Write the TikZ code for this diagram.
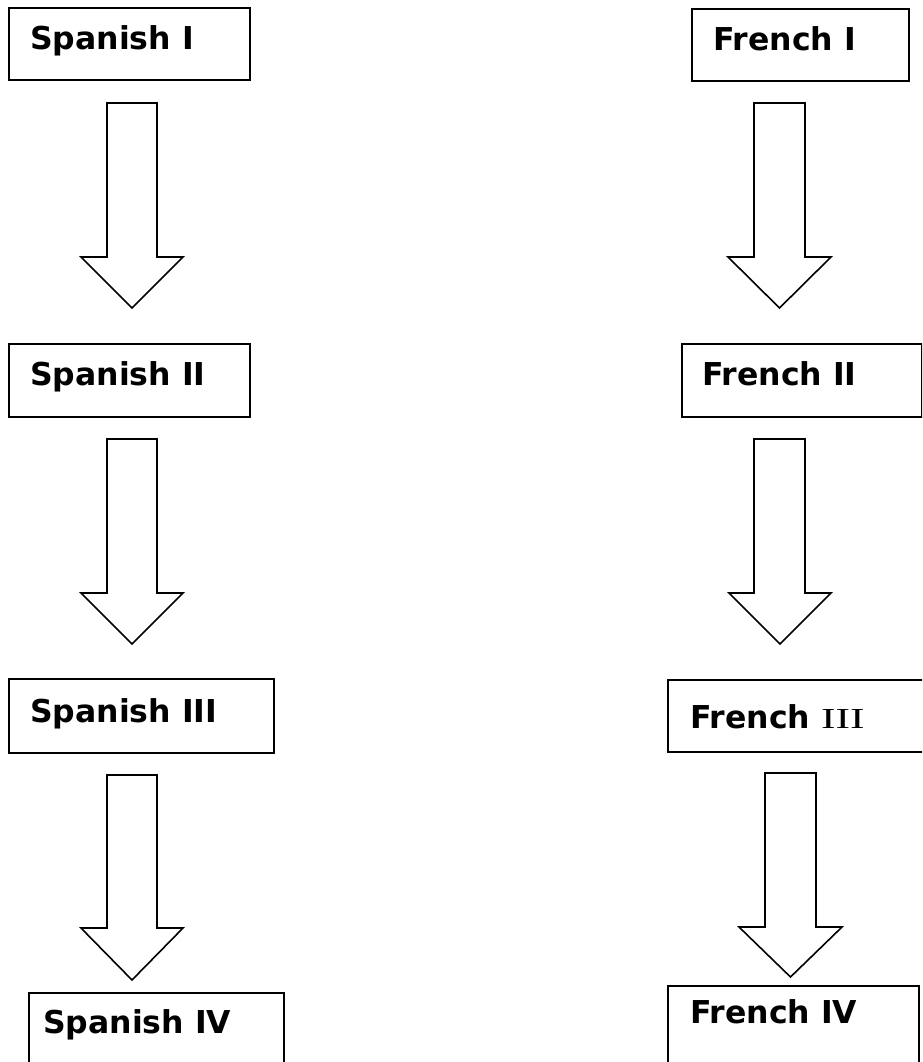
\documentclass[tikz,border=0pt]{standalone}
\usepackage{fontspec}
\usepackage{graphicx}
\setmainfont{DejaVu Sans}
\newfontfamily\serifiii{Liberation Serif}
\begin{document}
\begin{tikzpicture}[x=1pt,y=-1pt,
  box/.style={draw=black,line width=1.8pt,fill=white,rectangle,inner sep=0pt,anchor=north west},
  lbl/.style={anchor=base west,inner sep=0pt,font=\fontsize{31.5}{36}\selectfont\bfseries},
  barrow/.style={draw=black,line width=1.6pt,fill=white,line join=miter}]
\useasboundingbox (0,0) rectangle (922,1062);
\clip (0,0) rectangle (922,1062);
\newcommand{\blockarrow}[6]{% shaft left, shaft right, top, head y, head left, head right
  \draw[barrow] (#1,#3) -- (#2,#3) -- (#2,#4) -- (#6,#4) -- ({(#5+#6)/2},\tipY) -- (#5,#4) -- (#1,#4) -- cycle;}
% Spanish column
\node[box,minimum width=241pt,minimum height=72pt] (s1) at (8,7) {};
\node[lbl] (s1t) at (30,50) {Spanish I};
\node[box,minimum width=241pt,minimum height=73pt] (s2) at (8,343) {};
\node[lbl] (s2t) at (30,385) {Spanish II};
\node[box,minimum width=265pt,minimum height=74pt] (s3) at (8,678) {};
\node[lbl] (s3t) at (30,722) {Spanish III};
\node[box,minimum width=255pt,minimum height=90pt] (s4) at (28,992) {};
\node[lbl] (s4t) at (43,1033) {Spanish IV};
% French column
\node[box,minimum width=217pt,minimum height=72pt] (f1) at (691,8) {};
\node[lbl] (f1t) at (713,51) {French I};
\node[box,minimum width=240pt,minimum height=73pt] (f2) at (681,343) {};
\node[lbl] (f2t) at (702,385) {French II};
\node[box,minimum width=270pt,minimum height=72pt] (f3) at (667,679) {};
\node[lbl] (f3t) at (690,728) {French \serifiii\mdseries\fontsize{29}{34}\selectfont\scalebox{1.5}[1]{III}};
\node[box,minimum width=251pt,minimum height=90pt] (f4) at (667,985) {};
\node[lbl] (f4t) at (690,1023) {French IV};
% block arrows
\def\tipY{308}\blockarrow{107}{157}{103}{257}{81}{183}
\def\tipY{644}\blockarrow{107}{157}{439}{593}{81}{183}
\def\tipY{980}\blockarrow{107}{157}{775}{928}{81}{183}
\def\tipY{308}\blockarrow{754}{805}{103}{257}{728}{831}
\def\tipY{644}\blockarrow{754}{805}{439}{593}{729}{831}
\def\tipY{977}\blockarrow{765}{816}{773}{927}{739}{842}
\end{tikzpicture}
\end{document}
